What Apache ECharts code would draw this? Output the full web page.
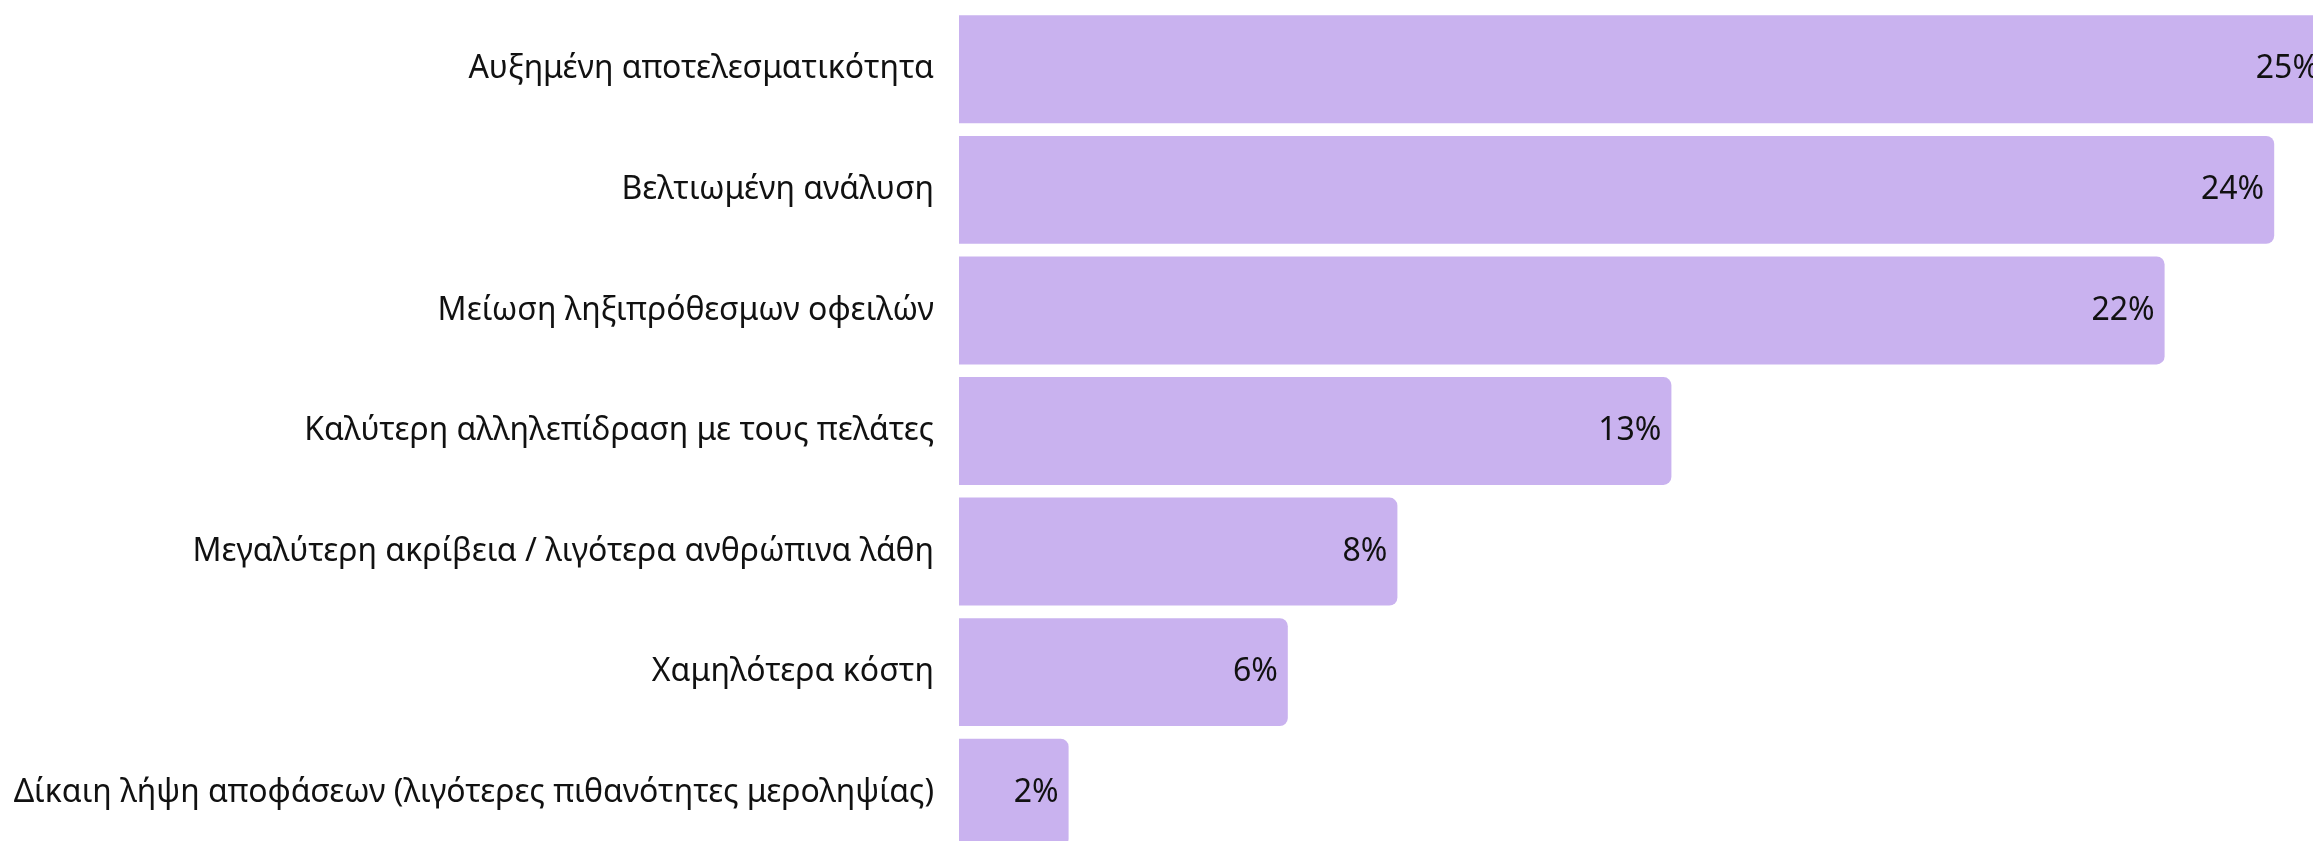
<!DOCTYPE html>
<html>
<head>
<meta charset="utf-8">
<script src="https://cdn.jsdelivr.net/npm/echarts@6/dist/echarts.min.js"></script>
<style>
  html, body { margin: 0; padding: 0; background: #fff; }
  #chart { width: 2313px; height: 841px; }
</style>
</head>
<body>
<div id="chart"></div>
<script>
// κατηγορίες (από πάνω προς τα κάτω)
const categories = [
  'Αυξημένη αποτελεσματικότητα',
  'Βελτιωμένη ανάλυση',
  'Μείωση ληξιπρόθεσμων οφειλών',
  'Καλύτερη αλληλεπίδραση με τους πελάτες',
  'Μεγαλύτερη ακρίβεια / λιγότερα ανθρώπινα λάθη',
  'Χαμηλότερα κόστη',
  'Δίκαιη λήψη αποφάσεων (λιγότερες πιθανότητες μεροληψίας)'
];
const values = [25, 24, 22, 13, 8, 6, 2];

const chart = echarts.init(document.getElementById('chart'));

const option = {
  animation: false,
  backgroundColor: '#ffffff',
  // το πλέγμα ξεπερνά λίγο δεξιά και κάτω, όπως στο πρωτότυπο
  grid: {
    left: 959,
    width: 1370,
    top: 9,
    height: 844,
    containLabel: false,
    outerBoundsMode: 'none'
  },
  xAxis: {
    type: 'value',
    min: 0,
    max: 25,
    show: false
  },
  yAxis: {
    type: 'category',
    inverse: true,
    data: categories,
    axisLine: { show: false },
    axisTick: { show: false },
    splitLine: { show: false },
    axisLabel: {
      margin: 25,
      fontSize: 32,
      fontFamily: 'Noto Sans',
      color: '#111111'
    }
  },
  series: [{
    type: 'bar',
    data: values,
    barCategoryGap: '10.5%',
    itemStyle: {
      color: '#c9b2ef',
      borderRadius: [0, 8, 8, 0]
    },
    label: {
      show: true,
      position: 'insideRight',
      distance: 10,
      fontSize: 32,
      fontFamily: 'Noto Sans',
      color: '#111111',
      formatter: p => p.value + '%'
    }
  }]
};

chart.setOption(option);
</script>
</body>
</html>
